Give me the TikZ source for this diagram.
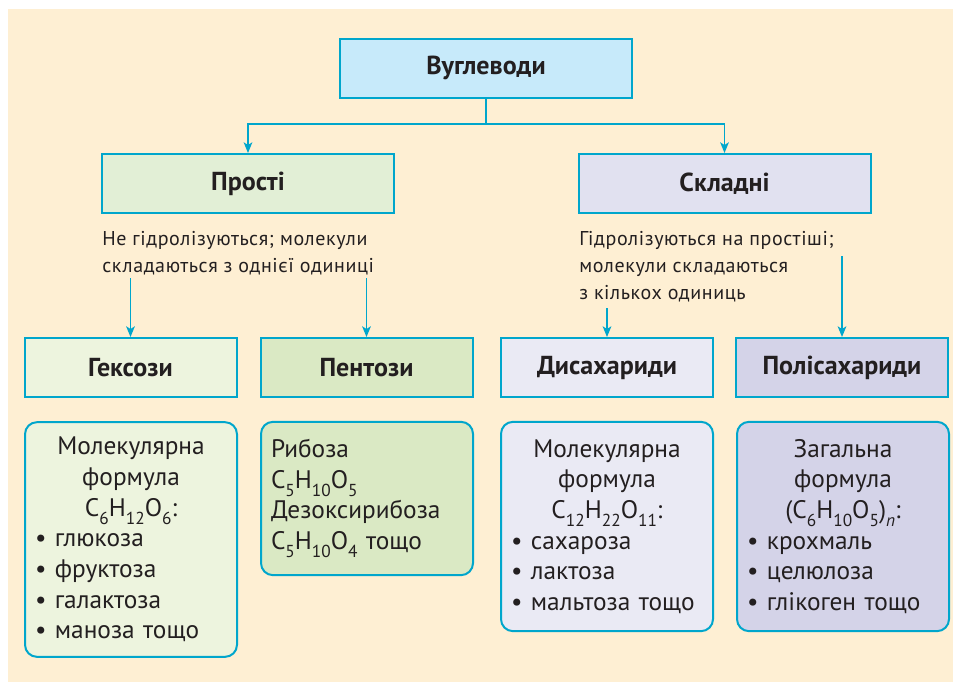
\documentclass[tikz,border=0pt]{standalone}
\usepackage{fontspec}
\setmainfont{PT Sans}
\usetikzlibrary{arrows.meta, positioning}
\definecolor{linecyan}{RGB}{0, 166, 204}
\definecolor{creambg}{RGB}{254, 239, 211}
\definecolor{inkgray}{RGB}{35, 31, 32}
\definecolor{skyfill}{RGB}{199, 234, 250}
\definecolor{greenfill}{RGB}{226, 239, 214}
\definecolor{lilacfill}{RGB}{225, 225, 240}
\definecolor{palegreen}{RGB}{237, 244, 222}
\definecolor{leafgreen}{RGB}{218, 233, 196}
\definecolor{palelilac}{RGB}{234, 234, 244}
\definecolor{deeplilac}{RGB}{212, 211, 232}
\newcommand{\chsub}[1]{\raisebox{-0.32em}{\fontsize{13}{13}\selectfont #1}}

\begin{document}
\begin{tikzpicture}[x=0.75pt, y=-0.75pt,
    box/.style={draw=linecyan, line width=1.5pt, text=inkgray, inner sep=0pt,
        font=\fontsize{19.5}{22}\selectfont\bfseries, minimum height=44.25pt},
    card/.style={draw=linecyan, line width=1.5pt, rounded corners=9pt, text=inkgray,
        inner xsep=7.5pt, inner ysep=0pt, text width=144pt, align=left,
        font=\fontsize{19}{23}\selectfont},
    note/.style={anchor=base west, align=left, inner sep=0pt, text=inkgray,
        font=\fontsize{15}{20}\selectfont\addfontfeatures{LetterSpace=3}},
    link/.style={draw=linecyan, line width=1.1pt},
    arr/.style={link, -{Stealth[length=8pt, width=6.5pt, inset=2pt]}}]
    \useasboundingbox (0,0) rectangle (953,682);
    \fill[creambg] (8,9) rectangle (953,682);

    % Top level
    \node[box, fill=skyfill, minimum width=219pt] (root) at (486,68) {Вуглеводи};
    \node[box, fill=greenfill, minimum width=219pt] (simple) at (248,183.5) {Прості};
    \node[box, fill=lilacfill, minimum width=219pt] (complex) at (724.5,183.5) {Складні};
    \coordinate (fork) at (486,124);
    \draw[link] (root.south) -- (fork);
    \draw[arr] (fork) -| (simple.north);
    \draw[arr] (fork) -| (complex.north);

    % Notes under the groups (base = last line)
    \node[note] (simplenote) at (102,272.5) {Не гідролізуються; молекули\\складаються з однієї одиниці};
    \node[note] (complexnote) at (579,299) {Гідролізуються на простіші;\\молекули складаються\\з кількох одиниць};

    % Second level
    \node[box, fill=palegreen, minimum width=159pt] (hex) at (130.5,367.5) {Гексози};
    \node[box, fill=leafgreen, minimum width=159pt] (pent) at (366.5,367.5) {Пентози};
    \node[box, fill=palelilac, minimum width=159pt] (di) at (607,367.5) {Дисахариди};
    \node[box, fill=deeplilac, minimum width=159pt] (poly) at (842,367.5) {Полісахариди};
    \coordinate (hexfrom) at (130.5,278);
    \coordinate (pentfrom) at (366.5,278);
    \coordinate (difrom) at (607,308);
    \coordinate (polyfrom) at (842,256);
    \draw[arr] (hexfrom) -- (hex.north);
    \draw[arr] (pentfrom) -- (pent.north);
    \draw[arr] (difrom) -- (di.north);
    \draw[arr] (polyfrom) -- (poly.north);

    % Detail cards
    \node[card, fill=palegreen, minimum height=176pt] (hexcard) at (131,539.5)
        {{\centering Молекулярна\\формула\\C\chsub{6}H\chsub{12}O\chsub{6}:\par}
        • глюкоза\\• фруктоза\\• галактоза\\• маноза тощо};
    \node[card, fill=leafgreen, minimum height=115pt] (pentcard) at (367,498.5)
        {Рибоза\\C\chsub{5}H\chsub{10}O\chsub{5}\\Дезоксирибоза\\C\chsub{5}H\chsub{10}O\chsub{4} тощо};
    \node[card, fill=palelilac, minimum height=157pt] (dicard) at (607,526.5)
        {{\centering Молекулярна\\формула\\C\chsub{12}H\chsub{22}O\chsub{11}:\par}
        • сахароза\\• лактоза\\• мальтоза тощо};
    \node[card, fill=deeplilac, minimum height=157pt] (polycard) at (843,526.5)
        {{\centering Загальна\\формула\\(C\chsub{6}H\chsub{10}O\chsub{5})\chsub{\itshape n}:\par}
        • крохмаль\\• целюлоза\\• глікоген тощо};
\end{tikzpicture}
\end{document}
